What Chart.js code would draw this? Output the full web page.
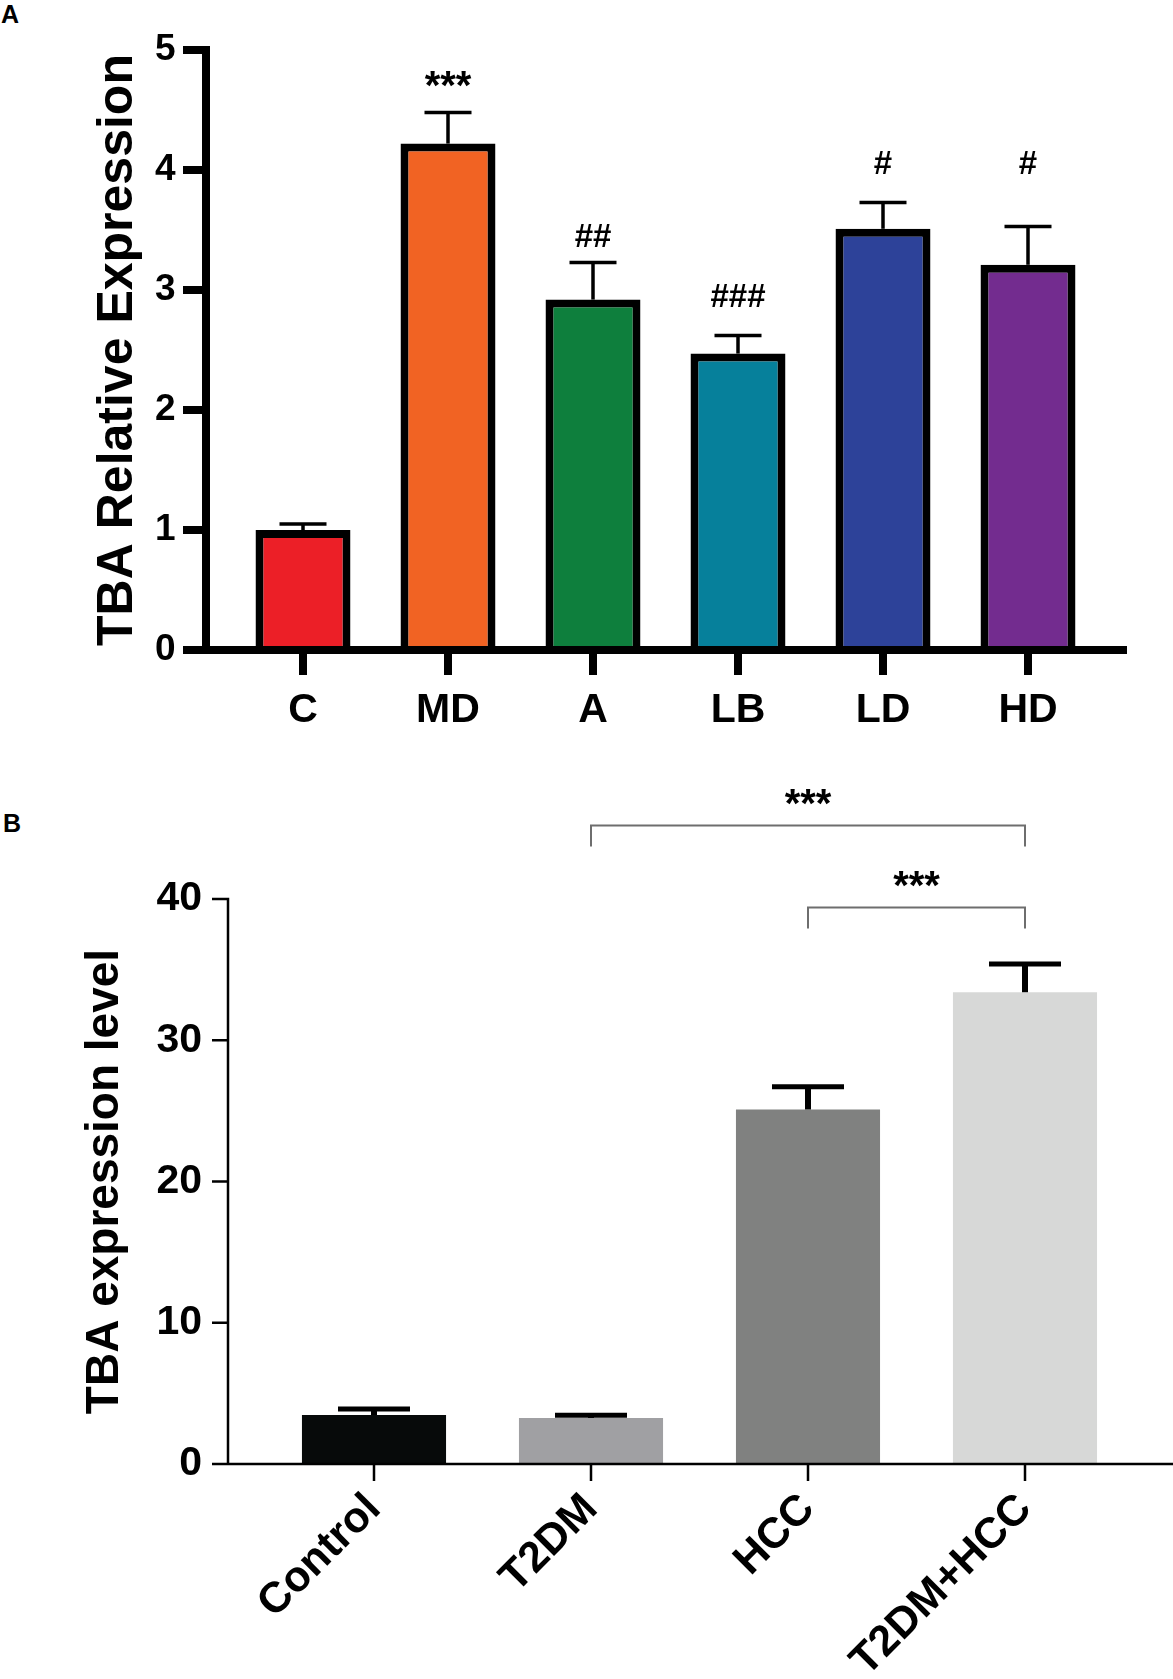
<!DOCTYPE html>
<html>
<head>
<meta charset="utf-8">
<script src="https://cdn.jsdelivr.net/npm/chart.js@4.4.1/dist/chart.umd.min.js"></script>
<style>
  html, body { margin: 0; padding: 0; background: #fff; }
  body { width: 1173px; height: 1679px; position: relative; overflow: hidden; font-family: "Liberation Sans", Arial, sans-serif; }
  canvas { position: absolute; left: 0; }
  #chartA { top: 0; }
  #chartB { top: 740px; }
  .panel { position: absolute; font-weight: bold; font-size: 25px; line-height: 25px; color: #000; }
</style>
</head>
<body>
<div class="panel" style="left:1px; top:2px;">A</div>
<div class="panel" style="left:3px; top:811px;">B</div>
<canvas id="chartA" width="1173" height="740"></canvas>
<canvas id="chartB" width="1173" height="939"></canvas>
<script>
// Panel A data
const catsA = ['C', 'MD', 'A', 'LB', 'LD', 'HD'];
const meanA = [1.0, 4.22, 2.92, 2.47, 3.51, 3.21];
const sdA = [0.05, 0.26, 0.31, 0.15, 0.22, 0.32];
const marksA = ['', '***', '##', '###', '#', '#'];
const markPosA = [null, 4.73, 3.43, 2.93, 4.04, 4.04];
const colorsA = ['#EC1F27', '#F16323', '#0E7F3D', '#06809B', '#2D4299', '#732C8F'];
const ticksA = [0, 1, 2, 3, 4, 5];

// Panel B data
const catsB = ['Control', 'T2DM', 'HCC', 'T2DM+HCC'];
const meanB = [3.47, 3.26, 25.1, 33.4];
const sdB = [0.43, 0.2, 1.6, 2.0];
const colorsB = ['#070A0A', '#A0A0A3', '#808180', '#D7D8D7'];
const ticksB = [0, 10, 20, 30, 40];
const bracketFrom = [1, 2];
const bracketTo = [3, 3];
const bracketY = [45.2, 39.4];
const bracketMarks = ['***', '***'];

const FONT = '"Liberation Sans", Arial, sans-serif';

// axis lines and tick marks drawn like the GraphPad style
const axesPlugin = {
  id: 'paperAxes',
  afterDatasetsDraw(chart, args, o) {
    const {ctx} = chart;
    const xs = chart.scales.x, ys = chart.scales.y;
    const y0 = ys.getPixelForValue(0);
    const yTop = ys.getPixelForValue(ys.max);
    ctx.save();
    ctx.strokeStyle = '#000';
    ctx.lineWidth = o.width;
    ctx.beginPath();
    ctx.moveTo(o.axisX, yTop - o.width / 2);
    ctx.lineTo(o.axisX, y0);
    ctx.moveTo(o.axisX - o.yTick, y0);
    ctx.lineTo(o.xEnd, y0);
    ys.ticks.forEach(t => {
      const p = ys.getPixelForValue(t.value);
      ctx.moveTo(o.axisX - o.yTick, p);
      ctx.lineTo(o.axisX, p);
    });
    xs.ticks.forEach((t, i) => {
      const p = xs.getPixelForValue(i);
      ctx.moveTo(p, y0);
      ctx.lineTo(p, y0 + o.xTick);
    });
    ctx.stroke();
    ctx.restore();
  }
};

// upper error bars (mean + SD)
const errorPlugin = {
  id: 'errorBars',
  afterDatasetsDraw(chart, args, o) {
    const {ctx} = chart;
    const xs = chart.scales.x, ys = chart.scales.y;
    const data = chart.data.datasets[0].data;
    ctx.save();
    ctx.strokeStyle = '#000';
    data.forEach((v, i) => {
      const x = xs.getPixelForValue(i);
      const yb = ys.getPixelForValue(v);
      const yt = ys.getPixelForValue(v + o.sd[i]);
      ctx.lineWidth = o.stem;
      ctx.beginPath();
      ctx.moveTo(x, yb);
      ctx.lineTo(x, yt);
      ctx.stroke();
      ctx.lineWidth = o.cap;
      ctx.beginPath();
      ctx.moveTo(x - o.capWidth / 2, yt);
      ctx.lineTo(x + o.capWidth / 2, yt);
      ctx.stroke();
    });
    ctx.restore();
  }
};

// significance marks above bars
const marksPlugin = {
  id: 'sigMarks',
  afterDraw(chart, args, o) {
    if (!o.marks) return;
    const {ctx} = chart;
    const xs = chart.scales.x, ys = chart.scales.y;
    ctx.save();
    ctx.fillStyle = '#000';
    ctx.textAlign = 'center';
    ctx.textBaseline = 'middle';
    o.marks.forEach((m, i) => {
      if (!m) return;
      const star = m.indexOf('*') >= 0;
      ctx.font = star ? o.starFont : o.hashFont;
      ctx.fillText(m, xs.getPixelForValue(i), ys.getPixelForValue(o.pos[i]) + (star ? o.starShift : 0));
    });
    ctx.restore();
  }
};

// comparison brackets for panel B
const bracketPlugin = {
  id: 'brackets',
  afterDraw(chart, args, o) {
    if (!o.from) return;
    const {ctx} = chart;
    const xs = chart.scales.x, ys = chart.scales.y;
    ctx.save();
    o.from.forEach((f, k) => {
      const x1 = xs.getPixelForValue(f);
      const x2 = xs.getPixelForValue(o.to[k]);
      const y = ys.getPixelForValue(o.y[k]);
      ctx.strokeStyle = '#6E6E6E';
      ctx.lineWidth = 2;
      ctx.beginPath();
      ctx.moveTo(x1, y + o.leg);
      ctx.lineTo(x1, y);
      ctx.lineTo(x2, y);
      ctx.lineTo(x2, y + o.leg);
      ctx.stroke();
      ctx.fillStyle = '#000';
      ctx.font = o.font;
      ctx.textAlign = 'center';
      ctx.textBaseline = 'middle';
      ctx.fillText(o.marks[k], (x1 + x2) / 2, y - o.gap);
    });
    ctx.restore();
  }
};

Chart.defaults.font.family = FONT;
Chart.defaults.color = '#000';

const noPad = s => { s.paddingTop = 0; s.paddingBottom = 0; };

new Chart(document.getElementById('chartA'), {
  type: 'bar',
  data: {
    labels: catsA,
    datasets: [{
      data: meanA,
      backgroundColor: colorsA,
      borderColor: '#000',
      borderWidth: 8,
      borderSkipped: 'bottom',
      categoryPercentage: 1,
      barPercentage: 0.655
    }]
  },
  plugins: [errorPlugin, axesPlugin, marksPlugin],
  options: {
    responsive: false,
    animation: false,
    layout: { padding: { left: 0, right: 72.5, top: 50, bottom: 0 } },
    plugins: {
      legend: { display: false },
      tooltip: { enabled: false },
      errorBars: { sd: sdA, stem: 3.5, cap: 3.5, capWidth: 47 },
      paperAxes: { axisX: 206, width: 8, yTick: 23, xTick: 25, xEnd: 1127 },
      sigMarks: { marks: marksA, pos: markPosA, starFont: 'bold 40px ' + FONT, hashFont: 'bold 33px ' + FONT, starShift: 6 }
    },
    scales: {
      x: {
        grid: { display: false, drawTicks: false },
        border: { display: false },
        ticks: { font: { size: 41, weight: 'bold' }, padding: 36, maxRotation: 0, autoSkip: false },
        afterFit: s => { s.height = 90; }
      },
      y: {
        min: 0,
        max: 5,
        grid: { display: false, drawTicks: false },
        border: { display: false },
        afterBuildTicks: s => { s.ticks = ticksA.map(v => ({ value: v })); },
        ticks: { font: { size: 37, weight: 'bold' }, padding: 55 },
        title: { display: true, text: 'TBA Relative Expression', font: { size: 50, weight: 'bold' }, padding: { top: 88, bottom: 0 } },
        afterFit: s => { s.width = 230.5; noPad(s); }
      }
    }
  }
});

new Chart(document.getElementById('chartB'), {
  type: 'bar',
  data: {
    labels: catsB,
    datasets: [{
      data: meanB,
      backgroundColor: colorsB,
      borderWidth: 0,
      categoryPercentage: 1,
      barPercentage: 0.664
    }]
  },
  plugins: [errorPlugin, axesPlugin, bracketPlugin],
  options: {
    responsive: false,
    animation: false,
    layout: { padding: { left: 0, right: 39.5, top: 159, bottom: 0 } },
    plugins: {
      legend: { display: false },
      tooltip: { enabled: false },
      errorBars: { sd: sdB, stem: 6, cap: 5, capWidth: 72 },
      paperAxes: { axisX: 228, width: 2.5, yTick: 16, xTick: 17, xEnd: 1173 },
      brackets: { from: bracketFrom, to: bracketTo, y: bracketY, marks: bracketMarks, leg: 21, gap: 20, font: 'bold 40px ' + FONT }
    },
    scales: {
      x: {
        grid: { display: false, drawTicks: false },
        border: { display: false },
        ticks: { font: { size: 43, weight: 'bold' }, padding: 20, minRotation: 45, maxRotation: 45, autoSkip: false },
        afterFit: s => { s.height = 215; }
      },
      y: {
        min: 0,
        max: 40,
        grid: { display: false, drawTicks: false },
        border: { display: false },
        afterBuildTicks: s => { s.ticks = ticksB.map(v => ({ value: v })); },
        ticks: { font: { size: 41, weight: 'bold' }, padding: 63.5 },
        title: { display: true, text: 'TBA expression level', font: { size: 46, weight: 'bold' }, padding: { top: 78, bottom: 0 } },
        afterFit: s => { s.width = 265.5; noPad(s); }
      }
    }
  }
});
</script>
</body>
</html>
